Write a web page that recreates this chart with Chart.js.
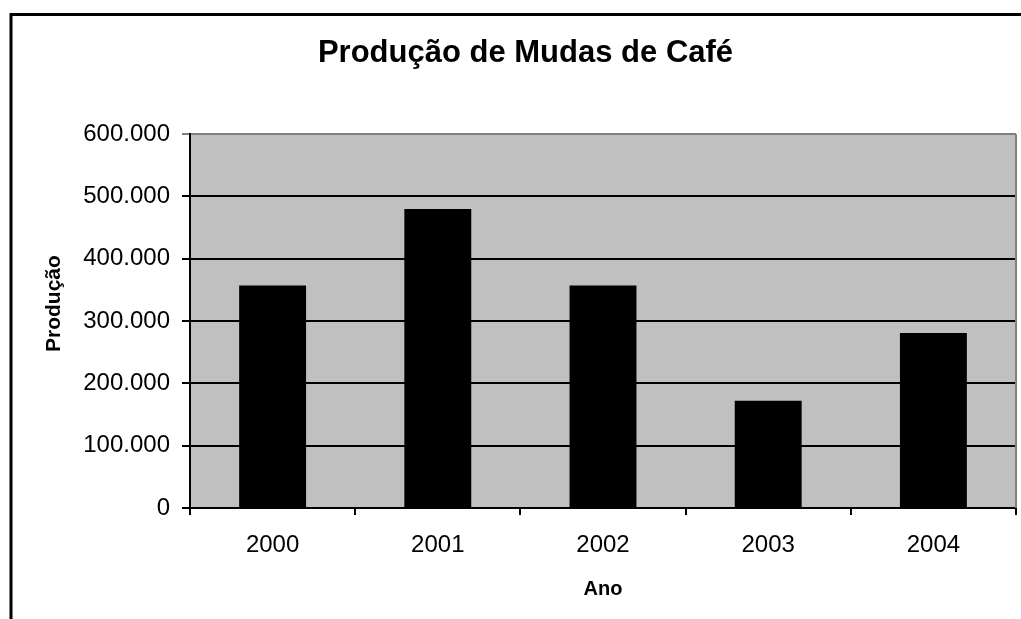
<!DOCTYPE html>
<html>
<head>
<meta charset="utf-8">
<script src="https://cdn.jsdelivr.net/npm/chart.js@4"></script>
<style>
  body { margin: 0; background: #fff; }
  #wrap { width: 1021px; height: 619px; position: relative; }
</style>
</head>
<body>
<div id="wrap"><canvas id="myChart"></canvas></div>
<script>
const TITLE = 'Produção de Mudas de Café';
const Y_LABEL = 'Produção';
const X_LABEL = 'Ano';

const anos = ['2000', '2001', '2002', '2003', '2004'];
const producao = [357000, 480000, 357000, 172000, 281000];
const yTicks = [0, 100000, 200000, 300000, 400000, 500000, 600000];

const FONT = 'Arial, "Liberation Sans", sans-serif';

// milhar com ponto, como no original
function fmt(v) {
  return String(v).replace(/\B(?=(\d{3})+(?!\d))/g, '.');
}

// fundo cinza da área do gráfico + moldura externa
const plotBg = {
  id: 'plotBg',
  beforeDraw(chart) {
    const {ctx, chartArea: a} = chart;
    ctx.save();
    ctx.fillStyle = '#c0c0c0';
    ctx.fillRect(a.left, a.top, a.right - a.left, a.bottom - a.top);
    ctx.restore();
  },
  afterDraw(chart) {
    const {ctx, chartArea: a, width, height} = chart;
    ctx.save();
    ctx.strokeStyle = '#808080';
    ctx.lineWidth = 2;
    ctx.beginPath();
    ctx.moveTo(a.right, a.top);
    ctx.lineTo(a.right, a.bottom);
    ctx.stroke();
    ctx.strokeStyle = '#000';
    ctx.lineWidth = 3;
    ctx.beginPath();
    ctx.moveTo(11, height);
    ctx.lineTo(11, 14.5);
    ctx.lineTo(width, 14.5);
    ctx.stroke();
    ctx.restore();
  }
};

const data = {
  labels: anos,
  datasets: [{
    label: Y_LABEL,
    data: producao,
    backgroundColor: '#000000',
    borderWidth: 0,
    barPercentage: 0.405,
    categoryPercentage: 1.0
  }]
};

const config = {
  type: 'bar',
  data: data,
  options: {
    responsive: true,
    maintainAspectRatio: false,
    animation: false,
    layout: { padding: { left: 35, right: 5, top: 0, bottom: 0 } },
    plugins: {
      legend: { display: false },
      tooltip: { enabled: false },
      title: {
        display: true,
        text: TITLE,
        color: '#000',
        font: { family: FONT, size: 31, weight: 'bold' },
        padding: { top: 35, bottom: 62 }
      }
    },
    scales: {
      x: {
        offset: true,
        afterFit: (s) => { s.height = 111; },
        grid: {
          offset: true,
          drawOnChartArea: false,
          drawTicks: true,
          tickLength: 7,
          color: '#000',
          lineWidth: 2
        },
        border: { color: '#000', width: 2 },
        ticks: {
          color: '#000',
          padding: 16,
          font: { family: FONT, size: 24 }
        },
        title: {
          display: true,
          text: X_LABEL,
          color: '#000',
          font: { family: FONT, size: 20, weight: 'bold' },
          padding: { top: 0, bottom: 18 }
        }
      },
      y: {
        min: 0,
        max: 600000,
        afterFit: (s) => { s.width = 155; },
        afterBuildTicks: (s) => { s.ticks = yTicks.map(v => ({ value: v })); },
        grid: {
          color: (c) => (c.tick && c.tick.value === 600000 ? '#808080' : '#000'),
          lineWidth: 2,
          drawTicks: true,
          tickLength: 8
        },
        border: { color: '#000', width: 2 },
        ticks: {
          color: '#000',
          padding: 12,
          font: { family: FONT, size: 24 },
          callback: (v) => fmt(v)
        },
        title: {
          display: true,
          // espaços à esquerda sobem o texto, como no original
          text: '      ' + Y_LABEL,
          color: '#000',
          font: { family: FONT, size: 21, weight: 'bold' },
          padding: { top: 7, bottom: 0 }
        }
      }
    }
  },
  plugins: [plotBg]
};

const myChart = new Chart(document.getElementById('myChart'), config);
</script>
</body>
</html>
